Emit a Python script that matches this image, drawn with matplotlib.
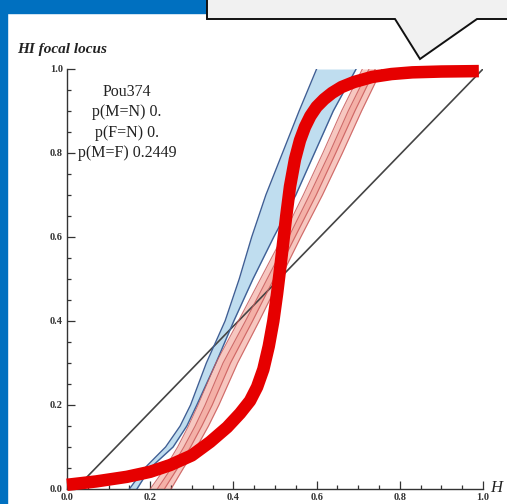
"""Hybrid index focal locus chart with overlaid sigmoid."""
import matplotlib
matplotlib.use("Agg")
import matplotlib.pyplot as plt
from matplotlib.patches import Polygon, Rectangle
from matplotlib.ticker import MultipleLocator

W, H = 507, 504

# diagonal reference line
diag_x = [0.02, 1.0]
diag_y = [0.0, 1.0]

# focal locus bands, read at common y levels
y_levels = [0.0, 0.05, 0.1, 0.15, 0.2, 0.3, 0.4, 0.5, 0.6, 0.7, 0.8, 0.9, 1.0]
blue_lo = [0.150, 0.187, 0.237, 0.272, 0.297, 0.335, 0.380, 0.414, 0.444, 0.478, 0.518, 0.558, 0.600]
blue_hi = [0.168, 0.200, 0.255, 0.288, 0.312, 0.358, 0.401, 0.447, 0.497, 0.550, 0.595, 0.640, 0.695]
red_a = [0.200, 0.236, 0.266, 0.292, 0.315, 0.358, 0.412, 0.465, 0.518, 0.568, 0.615, 0.660, 0.710]
red_b = [0.217, 0.251, 0.281, 0.308, 0.332, 0.375, 0.429, 0.481, 0.533, 0.583, 0.631, 0.676, 0.726]
red_c = [0.234, 0.266, 0.297, 0.324, 0.349, 0.393, 0.446, 0.497, 0.548, 0.599, 0.646, 0.692, 0.741]
red_d = [0.250, 0.280, 0.312, 0.340, 0.365, 0.410, 0.462, 0.512, 0.562, 0.614, 0.662, 0.708, 0.757]

# thick red sigmoid
sig_x = [0.0, 0.07, 0.144, 0.2, 0.248, 0.3, 0.344, 0.385, 0.416, 0.44, 0.457,
         0.472, 0.485, 0.496, 0.505, 0.513, 0.52, 0.527, 0.536, 0.548, 0.56,
         0.572, 0.585, 0.60, 0.618, 0.637, 0.66, 0.69, 0.733, 0.78, 0.83,
         0.9, 0.99]
sig_y = [0.01, 0.018, 0.029, 0.041, 0.057, 0.08, 0.112, 0.147, 0.18, 0.21, 0.243,
         0.285, 0.34, 0.40, 0.465, 0.53, 0.59, 0.65, 0.72, 0.785, 0.83,
         0.862, 0.888, 0.91, 0.928, 0.943, 0.957, 0.969, 0.981, 0.988, 0.992,
         0.994, 0.995]

info_lines = ["Pou374", "p(M=N) 0.", "p(F=N) 0.", "p(M=F) 0.2449"]

SERIF = ["Liberation Serif", "DejaVu Serif"]

fig = plt.figure(figsize=(W / 100, H / 100), dpi=100)
fig.patch.set_facecolor("white")


def fx(px):
    return px / W


def fy(py):
    return 1 - py / H


ax = fig.add_axes([fx(67), fy(489), fx(483) - fx(67), fy(69) - fy(489)])

ax.plot(diag_x, diag_y, color="#444444", lw=1.2, zorder=2)

ax.fill_betweenx(y_levels, blue_lo, blue_hi, color="#bcdcef", alpha=0.95, lw=0, zorder=1)
ax.plot(blue_lo, y_levels, color="#3f5f95", lw=1.0, zorder=3)
ax.plot(blue_hi, y_levels, color="#3f5f95", lw=1.0, zorder=3)

ax.fill_betweenx(y_levels, red_a, red_c, color="#f2a297", alpha=0.6, lw=0, zorder=1)
ax.fill_betweenx(y_levels, red_b, red_d, color="#f2a297", alpha=0.6, lw=0, zorder=1)
for xs in (red_a, red_b, red_c, red_d):
    ax.plot(xs, y_levels, color="#c85a5a", lw=0.8, alpha=0.85, zorder=3)

ax.plot(sig_x, sig_y, color="#e60000", lw=9.0, solid_capstyle="butt",
        solid_joinstyle="round", zorder=5, clip_on=False)

ax.text(0.144, 0.965, "\n".join(info_lines), ha="center", va="top",
        fontsize=11.5, family=SERIF, linespacing=1.37, color="#222222")

ax.set_xlim(0, 1)
ax.set_ylim(0, 1)
for side in ("top", "right"):
    ax.spines[side].set_visible(False)
for side in ("left", "bottom"):
    ax.spines[side].set_color("#333333")
    ax.spines[side].set_linewidth(1.0)
ax.xaxis.set_major_locator(MultipleLocator(0.2))
ax.xaxis.set_minor_locator(MultipleLocator(0.05))
ax.yaxis.set_major_locator(MultipleLocator(0.2))
ax.yaxis.set_minor_locator(MultipleLocator(0.05))
ax.tick_params(which="both", direction="in", color="#333333", width=0.9,
               labelsize=7.5, pad=3)
ax.tick_params(which="major", length=6)
ax.tick_params(which="minor", length=3)
ax.set_xticklabels([f"{v:.1f}" for v in ax.get_xticks()])
ax.set_yticklabels([f"{v:.1f}" for v in ax.get_yticks()])
for lab in ax.get_xticklabels() + ax.get_yticklabels():
    lab.set_family(SERIF)
    lab.set_fontweight("bold")
    lab.set_color("#333333")

fig.text(fx(17), fy(50), "HI focal locus", ha="left", va="center",
         fontsize=11, family=SERIF, style="italic", fontweight="bold", color="#222222")
fig.text(fx(490), fy(488), "H", ha="left", va="center",
         fontsize=12, family=SERIF, style="italic", color="#222222")

# blue frame and callout box
fig.patches.append(Rectangle((0, 0), fx(7), 1, transform=fig.transFigure,
                             color="#0070c0", zorder=10))
fig.patches.append(Rectangle((0, fy(13)), fx(215), 1 - fy(13), transform=fig.transFigure,
                             color="#0070c0", zorder=10))
callout = [(207, -3), (207, 19), (395, 19), (420, 59), (477, 19), (510, 19), (510, -3)]
fig.patches.append(Polygon([(fx(x), fy(y)) for x, y in callout], closed=True,
                           transform=fig.transFigure, facecolor="#f1f1f1",
                           edgecolor="#111111", lw=1.4, zorder=11, clip_on=False))

fig.savefig("out.png", dpi=100)
plt.close(fig)
